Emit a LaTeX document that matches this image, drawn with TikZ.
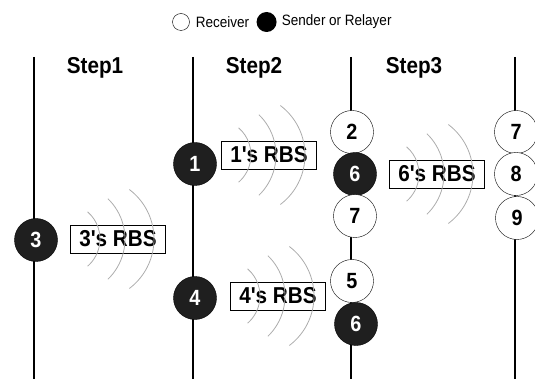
\documentclass[tikz,border=0pt]{standalone}
\usepackage{fontspec}
\setmainfont{Liberation Sans}
\newfontfamily\narrowsans[FakeStretch=0.9]{Liberation Sans}
\usetikzlibrary{positioning}

\begin{document}
\begin{tikzpicture}[x=1pt, y=-1pt,
    recv/.style={circle, draw, thin, fill=white, minimum size=43pt, inner sep=0pt, font=\narrowsans\fontsize{22}{22}\selectfont\bfseries},
    send/.style={recv, fill=black!88, text=white},
    rbs/.style={draw, thin, minimum width=95pt, minimum height=28pt, inner sep=0pt, font=\narrowsans\fontsize{23}{23}\selectfont\bfseries},
    steplabel/.style={font=\narrowsans\fontsize{23}{23}\selectfont\bfseries},
    legtext/.style={font=\narrowsans\fontsize{15}{15}\selectfont, anchor=west, inner sep=0pt},
    wave/.style={gray!65, line width=0.8pt}]
    \useasboundingbox (0,0) rectangle (535,379);

    % Legend
    \node[circle, draw, minimum size=17pt, inner sep=0pt] (legrecv) at (181,22) {};
    \node[legtext, right=6pt of legrecv] (legrecvtext) {Receiver};
    \node[circle, fill=black, minimum size=20pt, inner sep=0pt, right=7pt of legrecvtext] (legsend) {};
    \node[legtext, right=5pt of legsend] (legsendtext) {Sender or Relayer};

    % Time lines
    \foreach \x [count=\i] in {34,193,351,515} {
        \coordinate (top\i) at (\x,57);
        \coordinate (bot\i) at (\x,379);
        \draw[line width=1.2pt] (top\i) -- (bot\i);
    }

    % Step labels
    \node[steplabel] (step1) at (95,68) {Step1};
    \node[steplabel] (step2) at (254,68) {Step2};
    \node[steplabel] (step3) at (414,68) {Step3};

    % Broadcasts
    \node[rbs] (rbs3) at (118,239) {3's RBS};
    \node[rbs] (rbs1) at (269,155) {1's RBS};
    \node[rbs] (rbs4) at (278,296) {4's RBS};
    \node[rbs] (rbs6) at (437,174) {6's RBS};
    \foreach \b in {rbs3,rbs1,rbs4,rbs6}
        \foreach \dx/\r/\a in {-18/36/49, 7/56/46, 36/62/53}
            \draw[wave] ([xshift={\dx-\r}]\b.center) ++(-\a:\r) arc[start angle=-\a, end angle=\a, radius=\r];

    % Step 1
    \node[send] (n3) at (36,240) {3};

    % Step 2
    \node[send] (n1) at (195,164) {1};
    \node[send] (n4) at (195,298) {4};

    % Step 3
    \node[recv] (n2) at (352,132) {2};
    \node[send] (n6a) at (355,174) {6};
    \node[recv] (n7a) at (355,216) {7};
    \node[recv] (n5) at (352,281) {5};
    \node[send] (n6b) at (356,324) {6};

    % After step 3
    \node[recv] (n7b) at (516,132) {7};
    \node[recv] (n8) at (516,174) {8};
    \node[recv] (n9) at (517,218) {9};
\end{tikzpicture}
\end{document}
